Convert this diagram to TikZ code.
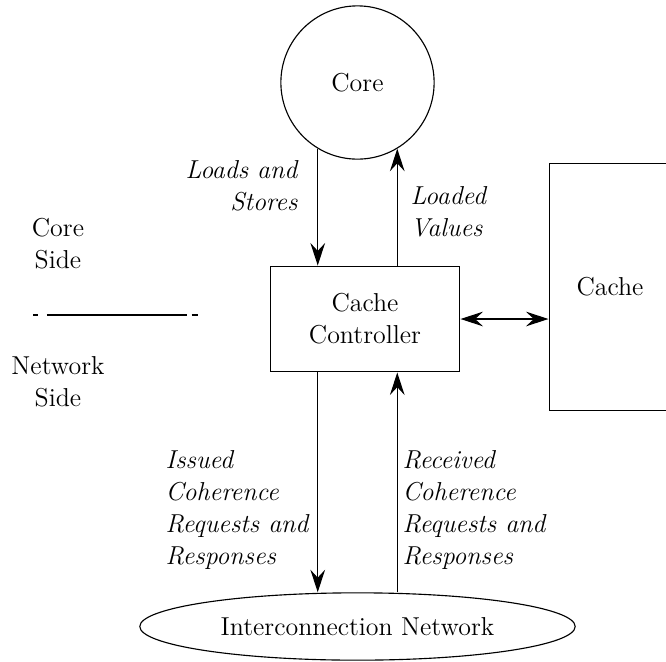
\documentclass[tikz,border=0pt]{standalone}
\usetikzlibrary{arrows.meta, shapes.geometric}

\begin{document}
\begin{tikzpicture}[x=0.0156cm, y=-0.0156cm, line width=0.5pt,
    font=\fontsize{11.5}{14.2}\selectfont,
    flow/.style={-{Stealth[length=10pt, width=6.5pt, inset=3.5pt]}},
    twoway/.style={{Stealth[length=10pt, width=6.5pt, inset=3.5pt]}-{Stealth[length=10pt, width=6.5pt, inset=3.5pt]}},
    note/.style={font=\fontsize{11.5}{14.2}\selectfont\itshape, inner sep=0pt}]
    \clip (0,0) rectangle (666,661);
    \node[draw, circle, minimum size=2.39cm] (core) at (357.5,82.5) {Core};
    \node[draw, minimum width=2.96cm, minimum height=1.65cm, align=center] (cc) at (365,319) {Cache\\Controller};
    \node[draw, minimum width=1.9cm, minimum height=3.84cm] (cache) at (610,287) {Cache};
    \node[draw, ellipse, minimum width=6.79cm, minimum height=1.05cm] (net) at (357.5,626.5) {Interconnection Network};
    \draw[flow] (core.239) -- (core.239 |- cc.north);
    \draw[flow] (cc.north -| core.-59) -- (core.-59);
    \draw[twoway] (cc.east) -- (cc.east -| cache.west);
    \draw[flow] (cc.south -| core.239) -- (net.north -| core.239);
    \draw[flow] (net.north -| core.-59) -- (cc.south -| core.-59);
    \node[note, anchor=east, align=right] (ls) at (298,186) {Loads and\\Stores};
    \node[note, anchor=west, align=left] (lv) at (410,212) {Loaded\\Values};
    \node[note, anchor=west, align=left] (iss) at (165,510) {Issued\\Coherence\\Requests and\\Responses};
    \node[note, anchor=west, align=left] (rec) at (402,510) {Received\\Coherence\\Requests and\\Responses};
    \node[align=center, inner sep=0pt] (cside) at (58,244) {Core\\Side};
    \node[align=center, inner sep=0pt] (nside) at (58,382) {Network\\Side};
    \coordinate (sepL) at (33,315);
    \coordinate (sepR) at (198,315);
    \draw[dash pattern=on 2.2pt off 4pt on 62pt off 2.2pt on 2.7pt] (sepL) -- (sepR);
\end{tikzpicture}
\end{document}
